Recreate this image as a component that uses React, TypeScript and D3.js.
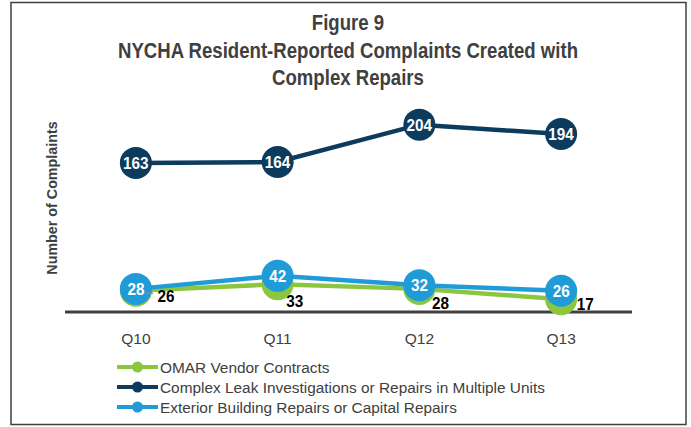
import React from "react";
import * as d3 from "d3";

const quarters = ["Q10", "Q11", "Q12", "Q13"];
const omarValues = [26, 33, 28, 17];
const leakValues = [163, 164, 204, 194];
const exteriorValues = [28, 42, 32, 26];
const seriesNames = [
  "OMAR Vendor Contracts",
  "Complex Leak Investigations or Repairs in Multiple Units",
  "Exterior Building Repairs or Capital Repairs",
];
const titleLines = [
  "Figure 9",
  "NYCHA Resident-Reported Complaints Created with",
  "Complex Repairs",
];
const yAxisTitle = "Number of Complaints";

// label nudges for the outside (green) labels, in px
const omarLabelNudge = [
  [30, 5],
  [17, 17],
  [21, 14],
  [24, 5],
];

const W = 691;
const H = 427;
const GREEN = "#8cc63f";
const NAVY = "#0c3b5e";
const BLUE = "#1f9bd7";
const GRAY = "#404040";
const FONT = "'Liberation Sans', Arial, sans-serif";

export default function App() {
  const x = d3.scalePoint<string>().domain(quarters).range([65, 632]).padding(0.5);
  const y = d3.scaleLinear().domain([0, 250]).range([315, 315 - 250 * 0.933]);
  const line = d3
    .line<number>()
    .x((_, i) => x(quarters[i]) as number)
    .y((d) => y(d));

  const R = 16;
  const axisY = y(0) - 3;

  const renderSeries = (vals: number[], color: string, key: string) => (
    <g key={key}>
      <path d={line(vals) || ""} fill="none" stroke={color} strokeWidth={4.5} />
      {vals.map((v, i) => (
        <circle key={i} cx={x(quarters[i])} cy={y(v)} r={R} fill={color} />
      ))}
    </g>
  );

  const narrowText = (
    key: string | number,
    cx: number,
    cy: number,
    txt: string | number,
    size: number,
    sx: number,
    fill: string,
    anchor: string = "middle",
    dy: string = "0"
  ) => (
    <g key={key} transform={`translate(${cx},${cy}) scale(${sx},1)`}>
      <text
        x={0}
        y={0}
        dy={dy}
        textAnchor={anchor}
        fill={fill}
        fontFamily={FONT}
        fontWeight="bold"
        fontSize={size}
      >
        {txt}
      </text>
    </g>
  );

  const innerLabels = (vals: number[], key: string) => (
    <g key={key}>
      {vals.map((v, i) =>
        narrowText(i, x(quarters[i]) as number, y(v), v, 17, 0.9, "#ffffff", "middle", "0.36em")
      )}
    </g>
  );

  const legendColors = [GREEN, NAVY, BLUE];

  return (
    <svg
      width={W}
      height={H}
      style={{ position: "fixed", left: 0, top: 0, background: "#fff" }}
    >
      <rect x={0} y={0} width={W} height={H} fill="#fff" />
      <rect x={11} y={2.5} width={675} height={422} fill="none" stroke={GRAY} strokeWidth={1.5} />

      {titleLines.map((t, i) => narrowText(i, 348, 30 + i * 27.5, t, 21.5, 0.865, GRAY))}

      <text
        transform={`translate(57,198) rotate(-90)`}
        textAnchor="middle"
        fill={GRAY}
        fontFamily={FONT}
        fontWeight="bold"
        fontSize={14.3}
      >
        {yAxisTitle}
      </text>

      <line x1={65} x2={632} y1={axisY} y2={axisY} stroke={GRAY} strokeWidth={3} />

      {quarters.map((q) => (
        <text
          key={q}
          x={x(q)}
          y={344}
          textAnchor="middle"
          fill={GRAY}
          fontFamily={FONT}
          fontSize={15.5}
        >
          {q}
        </text>
      ))}

      {renderSeries(leakValues, NAVY, "leak")}
      {renderSeries(omarValues, GREEN, "omar")}
      {renderSeries(exteriorValues, BLUE, "ext")}

      {/* leader line for first OMAR label */}
      <line
        x1={(x(quarters[0]) as number) + 7}
        x2={(x(quarters[0]) as number) + 17}
        y1={y(omarValues[0]) + 2.5}
        y2={y(omarValues[0]) + 2.5}
        stroke="#8c8c8c"
        strokeWidth={1.5}
      />

      {innerLabels(leakValues, "leakL")}
      {innerLabels(exteriorValues, "extL")}

      {omarValues.map((v, i) =>
        narrowText(
          "o" + i,
          (x(quarters[i]) as number) + omarLabelNudge[i][0],
          y(v) + omarLabelNudge[i][1],
          v,
          17,
          0.9,
          "#000",
          "middle",
          "0.36em"
        )
      )}

      {seriesNames.map((n, i) => (
        <g key={n} transform={`translate(0,${367 + i * 20})`}>
          <line x1={117} x2={158} y1={0} y2={0} stroke={legendColors[i]} strokeWidth={4} />
          <circle cx={137.5} cy={0} r={5.5} fill={legendColors[i]} />
          <text x={160} y={5.5} fill={GRAY} fontFamily={FONT} fontSize={15.4}>
            {n}
          </text>
        </g>
      ))}
    </svg>
  );
}
